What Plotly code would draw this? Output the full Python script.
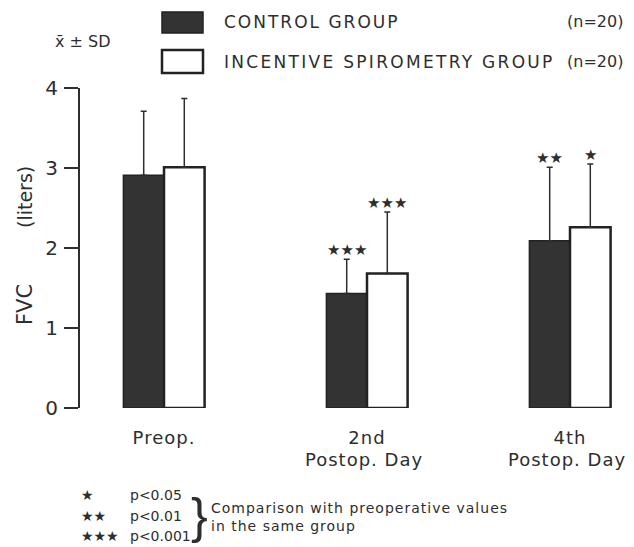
import plotly.graph_objects as go

category_line1 = ["Preop.", "2nd", "4th"]
category_line2 = ["", "Postop. Day", "Postop. Day"]
control_mean = [2.91, 1.43, 2.09]
control_sd = [0.80, 0.43, 0.92]
incentive_mean = [3.01, 1.68, 2.26]
incentive_sd = [0.86, 0.77, 0.79]
control_sig = ["", "★★★", "★★"]
incentive_sig = ["", "★★★", "★"]
y_ticks = [0, 1, 2, 3, 4]

FONT = "DejaVu Sans"
INK = "#2e2e2e"
OFF = 8  # page body margin
W, H = 634 - OFF, 547 - OFF
L, R, T, B = 80 - OFF, 10, 88 - OFF, 139
pw, ph = W - L - R, H - T - B

def px(x):
    return (x - OFF - L) / pw

def py(y):
    return (OFF + H - B - y) / ph

def spaced(s, sp=2):
    return f'<span style="letter-spacing:{sp}px">{s}</span>'

xs = list(range(len(category_line1)))
bw = 0.2

fig = go.Figure()
fig.add_trace(go.Bar(
    x=xs, y=control_mean, name="CONTROL GROUP", offsetgroup="c",
    marker=dict(color="#333333", line=dict(color="#222222", width=1.5)),
    error_y=dict(type="data", array=control_sd, arrayminus=[0]*3, symmetric=False,
                 color=INK, thickness=1.5, width=3),
    showlegend=False,
))
fig.add_trace(go.Bar(
    x=xs, y=incentive_mean, name="INCENTIVE SPIROMETRY GROUP", offsetgroup="i",
    marker=dict(color="white", line=dict(color="#222222", width=2.5)),
    error_y=dict(type="data", array=incentive_sd, arrayminus=[0]*3, symmetric=False,
                 color=INK, thickness=1.5, width=3),
    showlegend=False,
))

ann = []
for i in xs:
    for mean, sd, sig, off in ((control_mean[i], control_sd[i], control_sig[i], -bw/2),
                               (incentive_mean[i], incentive_sd[i], incentive_sig[i], bw/2)):
        if sig:
            ann.append(dict(x=i + off, y=mean + sd, xref="x", yref="y", text=sig,
                            showarrow=False, yanchor="bottom", yshift=-2,
                            font=dict(family=FONT, size=15, color=INK)))
    if category_line2[i]:
        ann.append(dict(x=i, y=py(459), xref="x", yref="paper", text=spaced(category_line2[i], 1),
                        showarrow=False, xanchor="center", yanchor="middle", xshift=-3,
                        font=dict(family=FONT, size=18, color=INK)))

# legend drawn manually
shapes = [
    dict(type="rect", xref="paper", yref="paper", x0=px(162), x1=px(203), y0=py(33), y1=py(12),
         fillcolor="#333333", line=dict(color="#222222", width=1.5)),
    dict(type="rect", xref="paper", yref="paper", x0=px(162), x1=px(203), y0=py(73), y1=py(50),
         fillcolor="white", line=dict(color="#222222", width=2.5)),
]
tfont = dict(family=FONT, size=17, color=INK)
nfont = dict(family=FONT, size=16, color=INK)
ann += [
    dict(x=px(222), y=py(22), xref="paper", yref="paper", text=spaced("CONTROL GROUP"),
         showarrow=False, xanchor="left", yanchor="middle", font=tfont),
    dict(x=px(625), y=py(22), xref="paper", yref="paper", text="(n=20)",
         showarrow=False, xanchor="right", yanchor="middle", font=nfont),
    dict(x=px(222), y=py(62), xref="paper", yref="paper", text=spaced("INCENTIVE SPIROMETRY GROUP", 2.3),
         showarrow=False, xanchor="left", yanchor="middle", font=tfont),
    dict(x=px(625), y=py(62), xref="paper", yref="paper", text="(n=20)",
         showarrow=False, xanchor="right", yanchor="middle", font=nfont),
    dict(x=px(83), y=py(42), xref="paper", yref="paper", text="x̄ ± SD",
         showarrow=False, xanchor="center", yanchor="middle", font=dict(family=FONT, size=16, color=INK)),
    dict(x=px(25), y=py(305), xref="paper", yref="paper", text="FVC", textangle=-90,
         showarrow=False, xanchor="center", yanchor="middle", font=dict(family=FONT, size=21, color=INK)),
    dict(x=px(25), y=py(197), xref="paper", yref="paper", text="(liters)", textangle=-90,
         showarrow=False, xanchor="center", yanchor="middle", font=dict(family=FONT, size=19, color=INK)),
]
ffont = dict(family=FONT, size=14, color=INK)
foot = [("★", "p<0.05", 495), ("★★", "p<0.01", 516), ("★★★", "p<0.001", 536)]
for s, p, yy in foot:
    ann.append(dict(x=px(79), y=py(yy), xref="paper", yref="paper", text=s, showarrow=False,
                    xanchor="left", yanchor="middle", font=dict(family=FONT, size=14, color=INK)))
    ann.append(dict(x=px(128), y=py(yy), xref="paper", yref="paper", text=p, showarrow=False,
                    xanchor="left", yanchor="middle", font=ffont))
ann.append(dict(x=px(199), y=py(516), xref="paper", yref="paper", text="}", showarrow=False,
                xanchor="center", yanchor="middle", font=dict(family="Liberation Sans", size=50, color=INK)))
ann.append(dict(x=px(209), y=py(508), xref="paper", yref="paper",
                text=spaced("Comparison with preoperative values", 1),
                showarrow=False, xanchor="left", yanchor="middle", font=ffont))
ann.append(dict(x=px(209), y=py(526), xref="paper", yref="paper", text=spaced("in the same group", 1),
                showarrow=False, xanchor="left", yanchor="middle", font=ffont))

left = -(164 - 80) / 203
fig.update_layout(
    width=W, height=H,
    margin=dict(l=L, r=R, t=T, b=B, pad=0),
    paper_bgcolor="white", plot_bgcolor="white",
    barmode="group", bargap=0.6, bargroupgap=0,
    font=dict(family=FONT, color=INK),
    xaxis=dict(range=[left, left + pw / 203], tickmode="array", tickvals=xs,
               ticktext=[spaced(t, 1) for t in category_line1],
               showline=False, showgrid=False, zeroline=False, ticks="",
               tickfont=dict(family=FONT, size=18, color=INK), ticklabelstandoff=17),
    yaxis=dict(range=[0, 4], tickmode="array", tickvals=y_ticks, ticktext=[str(v) for v in y_ticks],
               showline=True, linecolor=INK, linewidth=2, showgrid=False, zeroline=False,
               ticks="outside", ticklen=14, tickwidth=1.5, tickcolor=INK,
               tickfont=dict(family=FONT, size=20, color=INK), ticklabelstandoff=2),
    shapes=shapes, annotations=ann,
)
fig.write_html("out.html")
